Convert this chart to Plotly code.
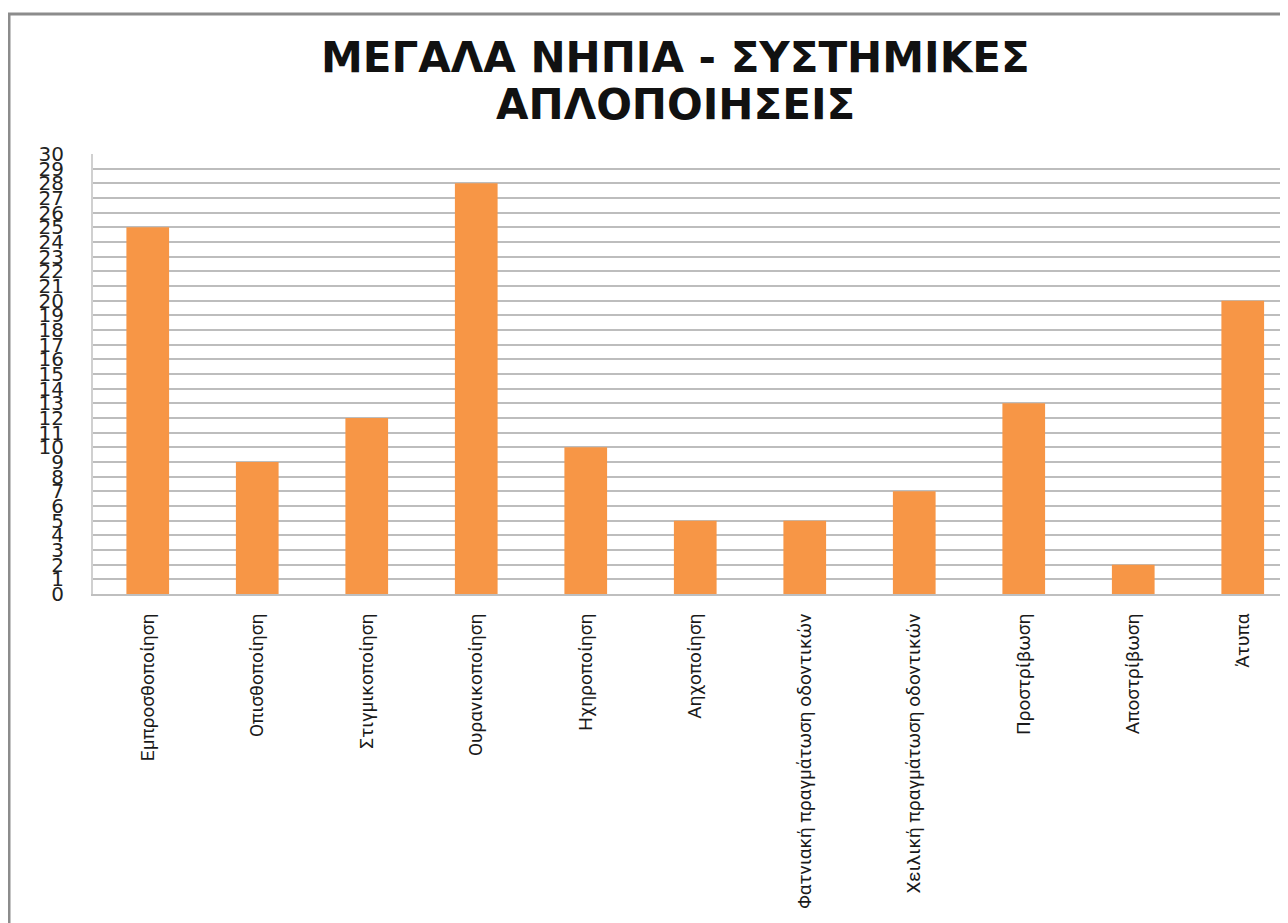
import plotly.graph_objects as go

categories = [
    "Εμπροσθοποίηση",
    "Οπισθοποίηση",
    "Στιγμικοποίηση",
    "Ουρανικοποίηση",
    "Ηχηροποίηση",
    "Αηχοποίηση",
    "Φατνιακή πραγμάτωση οδοντικών",
    "Χειλική πραγμάτωση οδοντικών",
    "Προστρίβωση",
    "Αποστρίβωση",
    "Άτυπα",
]
values = [25, 9, 12, 28, 10, 5, 5, 7, 13, 2, 20]
y_ticks = list(range(0, 31))
title_lines = ["ΜΕΓΑΛΑ ΝΗΠΙΑ - ΣΥΣΤΗΜΙΚΕΣ", "ΑΠΛΟΠΟΙΗΣΕΙΣ"]

# page body adds an 8px offset; positions below are in screen pixels
OFF = 8
W, H = 1288, 923
left_s, top_s, bottom_s = 93, 154, 594
right_fig = W
cat_w = 109.5
x_hi = (right_fig + OFF - left_s) / cat_w - 0.5

left = left_s - OFF
top = top_s - OFF
bottom = bottom_s - OFF

fig = go.Figure(
    go.Bar(
        x=categories,
        y=values,
        marker=dict(color="#F79646", line=dict(width=0)),
        width=0.39,
    )
)

pw = right_fig - left
ph = bottom - top


def px_x(xs):
    return (xs - OFF - left) / pw


def px_y(ys):
    return (bottom - (ys - OFF)) / ph


frame_color = "#8c8c8c"
fig.add_shape(type="line", xref="paper", yref="paper",
              x0=px_x(9), x1=px_x(9), y0=px_y(13), y1=px_y(H + 20),
              line=dict(color=frame_color, width=3))
fig.add_shape(type="line", xref="paper", yref="paper",
              x0=px_x(8), x1=px_x(W + 20), y0=px_y(14), y1=px_y(14),
              line=dict(color=frame_color, width=3))

title_font = dict(family="DejaVu Sans, Open Sans, sans-serif", size=42,
                  color="#111111", weight="bold")
for line_text, cy in zip(title_lines, [57, 104]):
    fig.add_annotation(
        text=line_text, xref="paper", yref="paper",
        x=px_x(675), y=px_y(cy), xanchor="center", yanchor="middle",
        showarrow=False, font=title_font,
    )

fig.update_layout(
    width=W,
    height=H,
    margin=dict(l=left, r=W - right_fig, t=top, b=H - bottom, pad=0),
    paper_bgcolor="white",
    plot_bgcolor="white",
    showlegend=False,
    xaxis=dict(
        type="category",
        range=[-0.5, x_hi],
        tickangle=-90,
        tickfont=dict(family="Roboto, Liberation Sans Narrow, sans-serif",
                      size=19, color="#1a1a1a"),
        showline=True,
        linecolor="#bfbfbf",
        linewidth=2,
        showgrid=False,
        ticks="",
        ticklabelstandoff=10,
        automargin=False,
        fixedrange=True,
    ),
    yaxis=dict(
        range=[0, 30],
        tickmode="array",
        tickvals=y_ticks,
        ticktext=[str(v) for v in y_ticks],
        tickfont=dict(family="DejaVu Sans, sans-serif", size=20, color="#222222"),
        showgrid=True,
        gridcolor="#bdbdbd",
        gridwidth=2,
        showline=True,
        linecolor="#d0d0d0",
        linewidth=2,
        zeroline=False,
        ticks="",
        ticklabelstandoff=23,
        automargin=False,
        fixedrange=True,
    ),
)

fig.write_html("out.html")
